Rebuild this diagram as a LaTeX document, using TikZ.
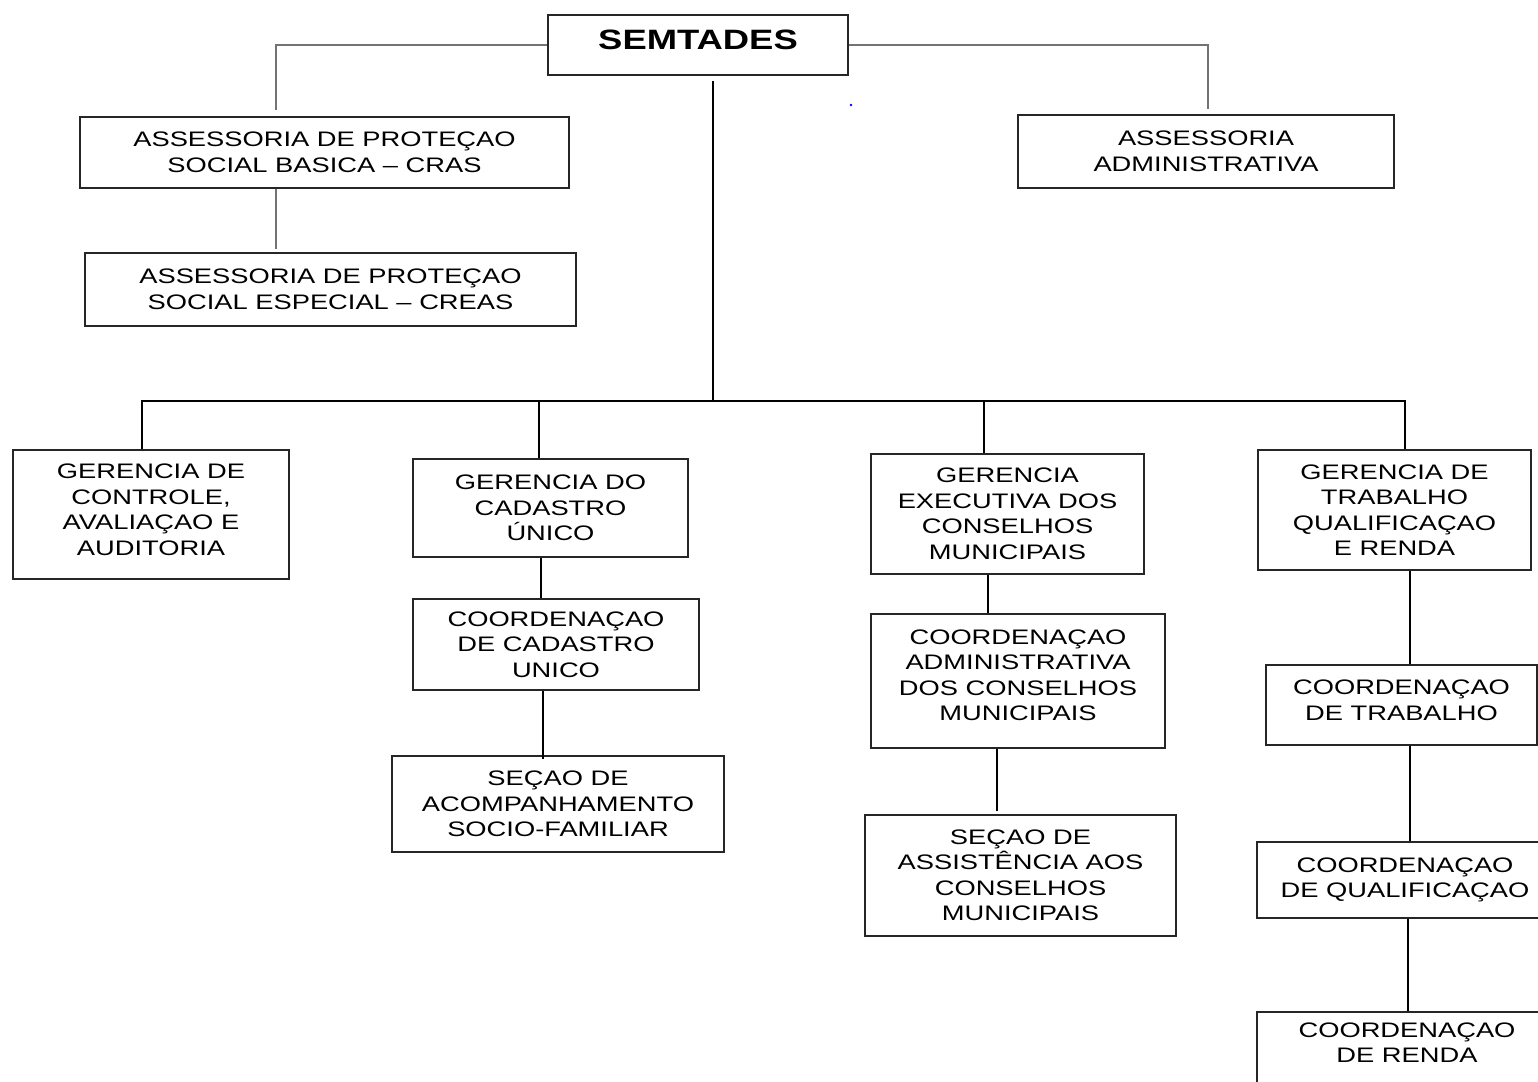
\documentclass[tikz,border=0pt]{standalone}
\usepackage{fontspec}
\setmainfont{Liberation Sans}[FakeStretch=1.3]
\usetikzlibrary{positioning}
\tikzset{
block/.style = {draw=black!85, line width=1.6pt, fill=white, rectangle, align=center, inner sep=0pt, font=\fontsize{21}{25.5}\selectfont},
rootblock/.style = {block, font=\fontsize{28}{30}\selectfont\bfseries},
link/.style = {draw=black, line width=1.5pt},
thinlink/.style = {draw=black!55, line width=1.2pt}
}
\begin{document}
\begin{tikzpicture}[x=1pt, y=-1pt]
    \useasboundingbox (0,0) rectangle (1538,1081);
    \clip (0,0) rectangle (1538,1081);
    \fill[white] (0,0) rectangle (1538,1081);
    \node [rootblock, minimum width=300pt, minimum height=60pt, text depth=10pt] (semtades) at (698,45) {SEMTADES};
    \node [block, minimum width=489pt, minimum height=71pt] (cras) at (324.5,152.5) {ASSESSORIA DE PROTEÇAO\\SOCIAL BASICA – CRAS};
    \node [block, minimum width=491pt, minimum height=73pt] (creas) at (330.5,289.5) {ASSESSORIA DE PROTEÇAO\\SOCIAL ESPECIAL – CREAS};
    \node [block, minimum width=376pt, minimum height=73pt] (adm) at (1206,151.5) {ASSESSORIA\\ADMINISTRATIVA};
    \node [block, minimum width=276pt, minimum height=129pt, text depth=10pt] (gca) at (151,514.5) {GERENCIA DE\\CONTROLE,\\AVALIAÇAO E\\AUDITORIA};
    \node [block, minimum width=275pt, minimum height=98pt] (gcu) at (550.5,508) {GERENCIA DO\\CADASTRO\\ÚNICO};
    \node [block, minimum width=273pt, minimum height=120pt] (gec) at (1007.5,514) {GERENCIA\\EXECUTIVA DOS\\CONSELHOS\\MUNICIPAIS};
    \node [block, minimum width=273pt, minimum height=120pt] (gtqr) at (1394.5,510) {GERENCIA DE\\TRABALHO\\QUALIFICAÇAO\\E RENDA};
    \node [block, minimum width=286pt, minimum height=91pt] (ccu) at (556,644.5) {COORDENAÇAO\\DE CADASTRO\\UNICO};
    \node [block, minimum width=332pt, minimum height=96pt] (saf) at (558,804) {SEÇAO DE\\ACOMPANHAMENTO\\SOCIO-FAMILIAR};
    \node [block, minimum width=294pt, minimum height=134pt, text depth=12pt] (cac) at (1018,681) {COORDENAÇAO\\ADMINISTRATIVA\\DOS CONSELHOS\\MUNICIPAIS};
    \node [block, minimum width=311pt, minimum height=121pt] (sac) at (1020.5,875.5) {SEÇAO DE\\ASSISTÊNCIA AOS\\CONSELHOS\\MUNICIPAIS};
    \node [block, minimum width=271pt, minimum height=80pt, text depth=10pt] (ct) at (1401.5,705) {COORDENAÇAO\\DE TRABALHO};
    \node [block, minimum width=296pt, minimum height=76pt] (cq) at (1405,880) {COORDENAÇAO\\DE QUALIFICAÇAO};
    \node [block, minimum width=300pt, inner sep=11pt, text depth=40pt, anchor=north] (cr) at (1407,1011) {COORDENAÇAO\\DE RENDA};
    \coordinate (bus) at (713,401);
    \draw[thinlink, shorten >=6pt] (semtades.west) -| ([xshift=-48.5pt]cras.north);
    \draw[thinlink, shorten >=5pt] (semtades.east) -| ([xshift=2pt]adm.north);
    \draw[thinlink, shorten >=3pt] ([xshift=-48.5pt]cras.south) -- ([xshift=-54.5pt]creas.north);
    \draw[link] ([xshift=15pt,yshift=-5pt]semtades.south) -- (bus);
    \draw[link] ([xshift=-9pt]gca.north) |- (bus);
    \draw[link] ([xshift=-11.5pt]gcu.north) |- (bus);
    \draw[link] ([xshift=-23.5pt]gec.north) |- (bus);
    \draw[link] ([xshift=10.5pt]gtqr.north) |- (bus);
    \draw[link] ([xshift=-9.5pt]gcu.south) -- ([xshift=-15pt]ccu.north);
    \draw[link, shorten >=-4pt] ([xshift=-13pt]ccu.south) -- ([xshift=-15pt]saf.north);
    \draw[link] ([xshift=-19.5pt]gec.south) -- ([xshift=-30pt]cac.north);
    \draw[link, shorten >=3pt] ([xshift=-21pt]cac.south) -- ([xshift=-23.5pt]sac.north);
    \draw[link] ([xshift=15.5pt]gtqr.south) -- ([xshift=8.5pt]ct.north);
    \draw[link] ([xshift=8.5pt]ct.south) -- ([xshift=5pt]cq.north);
    \draw[link] ([xshift=3pt]cq.south) -- ([xshift=1pt]cr.north);
    \fill[blue] (851,105) circle (1.3);
\end{tikzpicture}
\end{document}
